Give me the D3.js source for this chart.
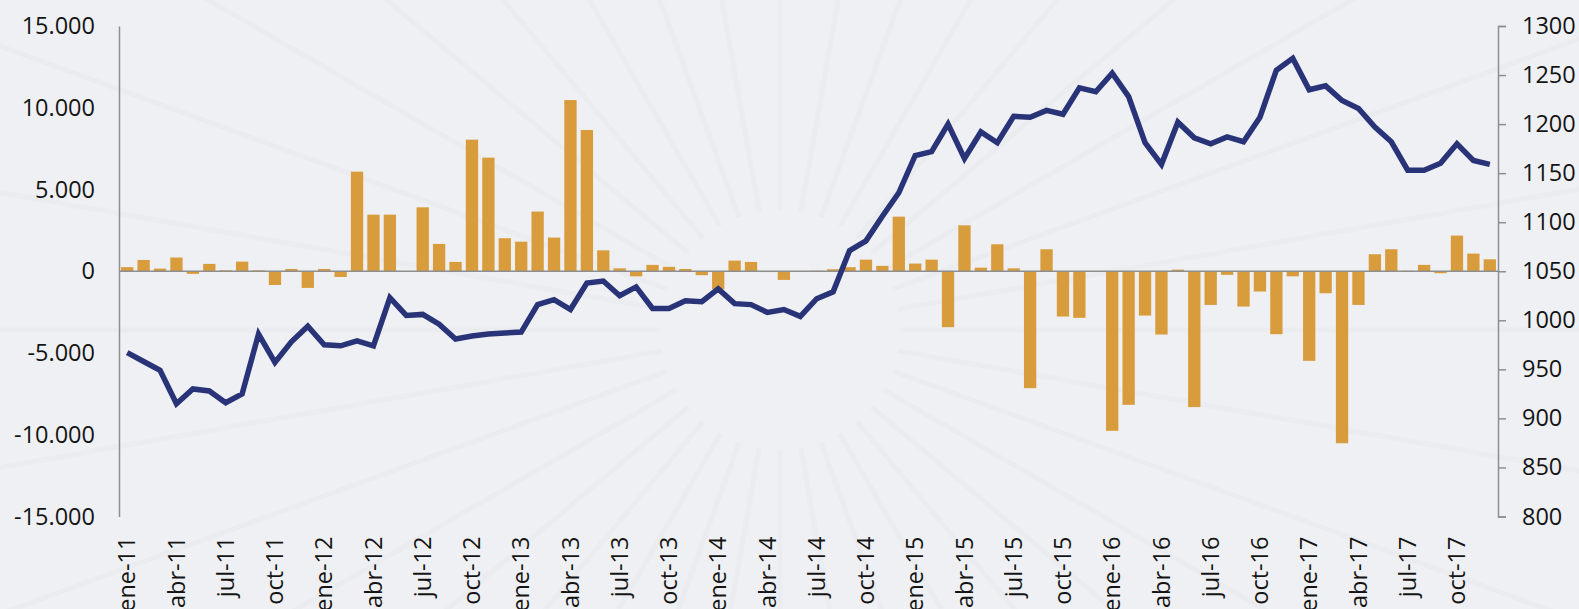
<!DOCTYPE html>
<html>
<head>
<meta charset="utf-8">
<script src="https://cdn.jsdelivr.net/npm/d3@7"></script>
<style>
  html, body { margin: 0; padding: 0; background: #eff0f3; }
  svg { display: block; }
  text { font-family: "Open Sans", "Noto Sans", sans-serif; fill: #141414; }
</style>
</head>
<body>
<svg id="chart" width="1579" height="609"></svg>
<script>
// ---- data ----
const months = [
  "ene-11","feb-11","mar-11","abr-11","may-11","jun-11","jul-11","ago-11","sep-11","oct-11","nov-11","dic-11",
  "ene-12","feb-12","mar-12","abr-12","may-12","jun-12","jul-12","ago-12","sep-12","oct-12","nov-12","dic-12",
  "ene-13","feb-13","mar-13","abr-13","may-13","jun-13","jul-13","ago-13","sep-13","oct-13","nov-13","dic-13",
  "ene-14","feb-14","mar-14","abr-14","may-14","jun-14","jul-14","ago-14","sep-14","oct-14","nov-14","dic-14",
  "ene-15","feb-15","mar-15","abr-15","may-15","jun-15","jul-15","ago-15","sep-15","oct-15","nov-15","dic-15",
  "ene-16","feb-16","mar-16","abr-16","may-16","jun-16","jul-16","ago-16","sep-16","oct-16","nov-16","dic-16",
  "ene-17","feb-17","mar-17","abr-17","may-17","jun-17","jul-17","ago-17","sep-17","oct-17","nov-17","dic-17"
];
// bars (left axis)
const barValues = [
  250, 690, 160, 840, -160, 450, 60, 590, 60, -840, 140, -1020,
  140, -350, 6090, 3460, 3460, 0, 3910, 1670, 570, 8050, 6950, 2020,
  1810, 3650, 2060, 10470, 8640, 1280, 180, -310, 390, 270, 140, -240,
  -1100, 650, 570, -50, -530, 0, 30, 120, 250, 710, 330, 3340,
  470, 710, -3420, 2810, 220, 1650, 180, -7150, 1345, -2770, -2850, 0,
  -9760, -8170, -2710, -3870, 100, -8310, -2060, -220, -2160, -1240, -3850, -310,
  -5480, -1345, -10520, -2060, 1040, 1345, 30, 390, -120, 2180, 1080, 730
];
// line (right axis)
const lineValues = [
  967, 958, 949, 915, 930, 928, 916, 925, 986, 957, 978, 994,
  975, 974, 979, 974, 1023, 1005, 1006, 996, 981, 984, 986, 987,
  988, 1016, 1021, 1011, 1038, 1040, 1025, 1034, 1012, 1012, 1020, 1019,
  1032, 1017, 1016, 1008, 1011, 1004, 1022, 1029, 1071, 1081, 1106, 1130,
  1168, 1172, 1200, 1165, 1192, 1181, 1208, 1207, 1214, 1210, 1237, 1233,
  1252, 1228, 1181, 1159, 1202, 1186, 1180, 1187, 1182, 1207, 1255, 1267,
  1235, 1239, 1224, 1216, 1197, 1182, 1153, 1153, 1160, 1180, 1163, 1159
];
const leftTicks = [-15000, -10000, -5000, 0, 5000, 10000, 15000];
const rightTicks = [800, 850, 900, 950, 1000, 1050, 1100, 1150, 1200, 1250, 1300];
const xTickLabels = months.filter((m, i) => i % 3 === 0);

// ---- layout ----
const W = 1579, H = 609;
const plotLeft = 119, plotRight = 1498, plotTop = 26, plotBottom = 516.5;
const svg = d3.select("#chart");

// background (plain paper tone with faint decorative rays)
svg.append("rect").attr("width", W).attr("height", H).attr("fill", "#eff0f3");
const deco = svg.append("g").attr("opacity", 0.35);
const cx = 780, cy = 330;
for (let a = 0; a < 360; a += 10) {
  const r = a * Math.PI / 180;
  deco.append("line")
    .attr("x1", cx + Math.cos(r) * 120).attr("y1", cy + Math.sin(r) * 120)
    .attr("x2", cx + Math.cos(r) * 900).attr("y2", cy + Math.sin(r) * 900)
    .attr("stroke", "#e4e6ea").attr("stroke-width", 5);
}

// scales
const x = d3.scaleBand().domain(months).range([plotLeft, plotRight])
  .paddingInner(0.25).paddingOuter(0.125);
const yL = d3.scaleLinear().domain([-15000, 15000]).range([plotBottom, plotTop]);
const yR = d3.scaleLinear().domain([800, 1300]).range([plotBottom, plotTop]);

const esLocale = d3.formatLocale({decimal: ",", thousands: ".", grouping: [3], currency: ["", ""], minus: "-"});
const fmtL = esLocale.format(",");

// bars
svg.append("g").selectAll("rect").data(months).join("rect")
  .attr("x", d => x(d))
  .attr("width", x.bandwidth())
  .attr("y", (d, i) => Math.min(yL(barValues[i]), yL(0)))
  .attr("height", (d, i) => Math.abs(yL(barValues[i]) - yL(0)))
  .attr("fill", "#d99c3c");

// zero line
svg.append("line")
  .attr("x1", plotLeft).attr("x2", plotRight)
  .attr("y1", yL(0)).attr("y2", yL(0))
  .attr("stroke", "#8e8e8e").attr("stroke-width", 1.5);

// line series
const line = d3.line()
  .x((d, i) => x(months[i]) + x.bandwidth() / 2)
  .y(d => yR(d));
svg.append("path").datum(lineValues)
  .attr("d", line)
  .attr("fill", "none")
  .attr("stroke", "#283378")
  .attr("stroke-width", 5.5)
  .attr("stroke-linejoin", "miter");

// left axis
const gL = svg.append("g").attr("transform", `translate(${plotLeft},0)`)
  .call(d3.axisLeft(yL).tickValues(leftTicks).tickFormat(fmtL).tickSize(0).tickPadding(24));
gL.select(".domain").attr("stroke", "#8e8e8e").attr("stroke-width", 1.5);
gL.selectAll("text").attr("font-size", 23.5).attr("font-family", "'Open Sans', sans-serif").attr("fill", "#141414");

// right axis
const gR = svg.append("g").attr("transform", `translate(${plotRight},0)`)
  .call(d3.axisRight(yR).tickValues(rightTicks).tickFormat(d3.format("d")).tickSize(8).tickPadding(16));
gR.select(".domain").attr("stroke", "#8e8e8e").attr("stroke-width", 1.5);
gR.selectAll(".tick line").attr("stroke", "#8e8e8e").attr("stroke-width", 1.5);
gR.selectAll("text").attr("font-size", 23.5).attr("font-family", "'Open Sans', sans-serif").attr("fill", "#141414");

// x axis labels
const gX = svg.append("g").attr("transform", `translate(0,${plotBottom})`)
  .call(d3.axisBottom(x).tickValues(xTickLabels).tickSize(0));
gX.select(".domain").remove();
gX.selectAll("text")
  .attr("font-size", 23.5).attr("font-family", "'Open Sans', sans-serif").attr("fill", "#141414")
  .attr("transform", "rotate(-90)")
  .attr("text-anchor", "end")
  .attr("x", -20).attr("y", 0).attr("dy", "0.35em");
</script>
</body>
</html>
